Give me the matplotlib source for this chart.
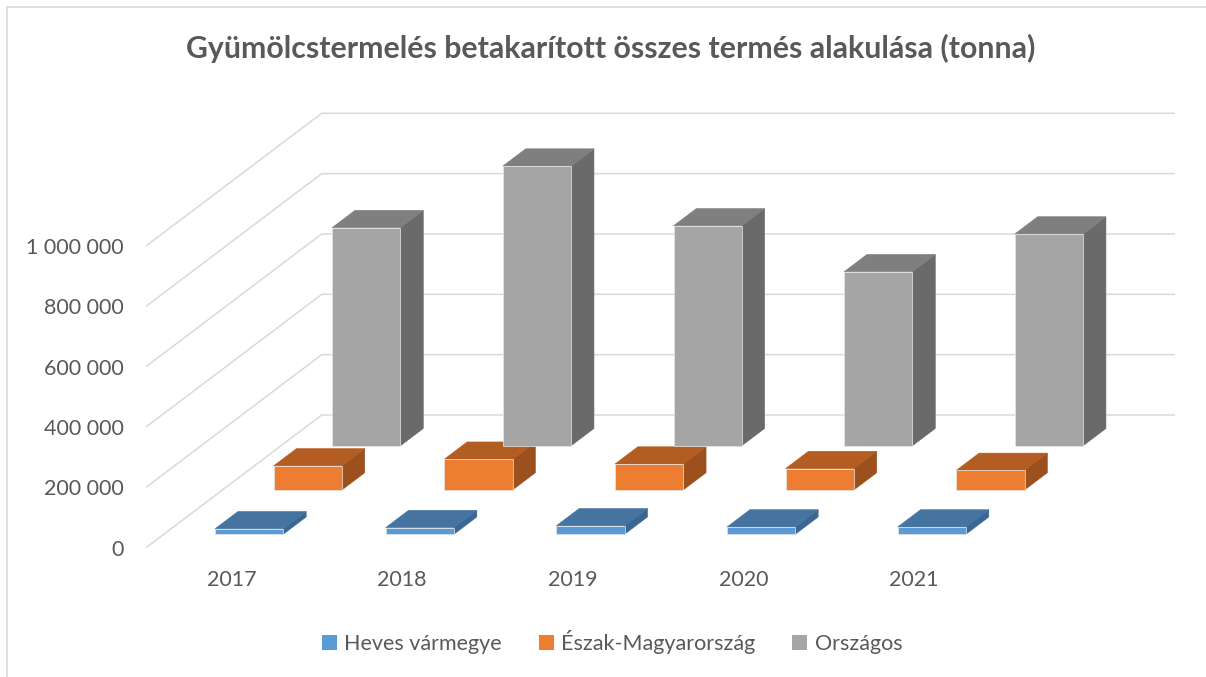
import matplotlib
matplotlib.use('Agg')
import matplotlib.pyplot as plt
from matplotlib.patches import Polygon, Patch, Rectangle

plt.rcParams['font.family'] = ['Lato', 'DejaVu Sans']

years = ['2017', '2018', '2019', '2020', '2021']
heves = [18000, 22000, 28000, 24000, 24000]
eszak = [80000, 102000, 86000, 71000, 65000]
orszagos = [723000, 927000, 729000, 577000, 702000]
series_names = ['Heves vármegye', 'Észak-Magyarország', 'Országos']
y_ticks = [0, 200000, 400000, 600000, 800000, 1000000]

# colours: front, top, side
colors = [
    ('#5B9BD5', '#44749F', '#3A6792'),
    ('#ED7D31', '#B45D22', '#9B501E'),
    ('#A5A5A5', '#7F7F7F', '#6A6A6A'),
]

# oblique "3D" projection: depth d in [0, 1] shifts x by DX categories and y by DY tonnes
DX = 1.0295
DY = 439800
BAR_W = 0.4
BAR_D = 0.13


def proj(x, d, v):
    return (x + d * DX, v + d * DY)


fig = plt.figure(figsize=(12.06, 6.77), dpi=100)
W, H = 1206, 677
ax = fig.add_axes([146 / W, 129.3 / H, 1029 / W, 440.5 / H])
ax.set_xlim(0, len(years) + DX)
ax.set_ylim(0, 1460000)
for s in ax.spines.values():
    s.set_visible(False)

# wall gridlines (side wall + back wall)
n = len(years)
for t in y_ticks:
    xs = [0, DX, n + DX]
    ys = [t, t + DY, t + DY]
    ax.plot(xs, ys, color='#D9D9D9', lw=1.1, zorder=1, solid_capstyle='butt')

# bars, back row first
all_series = [heves, eszak, orszagos]
for k in reversed(range(3)):
    front_c, top_c, side_c = colors[k]
    d0 = k / 3 + (1 / 3 - BAR_D) / 2
    d1 = d0 + BAR_D
    for i, v in enumerate(all_series[k]):
        x0 = i + (1 - BAR_W) / 2
        x1 = x0 + BAR_W
        front = [proj(x0, d0, 0), proj(x1, d0, 0), proj(x1, d0, v), proj(x0, d0, v)]
        top = [proj(x0, d0, v), proj(x1, d0, v), proj(x1, d1, v), proj(x0, d1, v)]
        side = [proj(x1, d0, 0), proj(x1, d1, 0), proj(x1, d1, v), proj(x1, d0, v)]
        ax.add_patch(Polygon(side, closed=True, facecolor=side_c, edgecolor=side_c, lw=0.4, zorder=2))
        ax.add_patch(Polygon(top, closed=True, facecolor=top_c, edgecolor=top_c, lw=0.4, zorder=2))
        ax.add_patch(Polygon(front, closed=True, facecolor=front_c, edgecolor='#E6E6E6', lw=0.5, zorder=3))

ax.set_yticks(y_ticks)
ax.set_yticklabels([f'{t:,}'.replace(',', ' ') for t in y_ticks])
ax.set_xticks([i + 0.5 for i in range(n)])
ax.set_xticklabels(years)
ax.tick_params(axis='y', length=0, pad=16, labelsize=15.5, labelcolor='#595959')
ax.tick_params(axis='x', length=0, pad=16, labelsize=15.5, labelcolor='#595959')

fig.text(611 / W, 1 - 48 / H, 'Gyümölcstermelés betakarított összes termés alakulása (tonna)',
         ha='center', va='center', fontsize=21.8, fontweight='bold', color='#595959')

handles = [Patch(facecolor=colors[k][0], edgecolor='none') for k in range(3)]
fig.legend(handles, series_names, loc='center', bbox_to_anchor=(612 / W, 1 - 642 / H),
           ncol=3, frameon=False, fontsize=15.5, labelcolor='#595959',
           handlelength=0.7, handleheight=0.7, handletextpad=0.35, columnspacing=1.7)

# chart area border (top and left visible in the crop)
fig.patches.append(Rectangle((7 / W, -0.1), 1.2, 1 - 7 / H + 0.1, transform=fig.transFigure,
                             facecolor='none', edgecolor='#D9D9D9', lw=1.2))

fig.savefig('out.png', dpi=100)
